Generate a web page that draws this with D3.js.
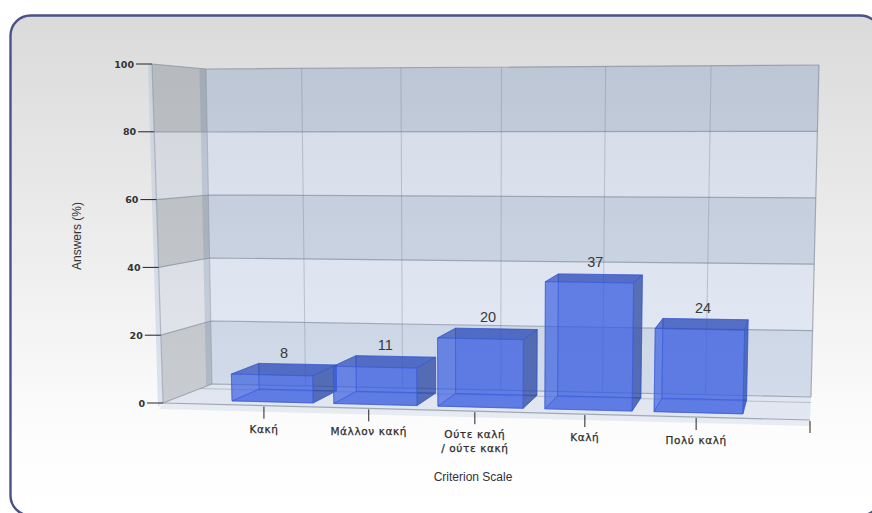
<!DOCTYPE html>
<html>
<head>
<meta charset="utf-8">
<script src="https://d3js.org/d3.v7.min.js"></script>
<style>
  html, body { margin: 0; padding: 0; background: #fff; }
  svg { display: block; }
</style>
</head>
<body>
<svg id="chart" width="872" height="513"></svg>
<script>
const categories = [['Κακή'], ['Μάλλον κακή'], ['Ούτε καλή', '/ ούτε κακή'], ['Καλή'], ['Πολύ καλή']];
const answers = [8, 11, 20, 37, 24];
const valueTicks = [0, 20, 40, 60, 80, 100];
const slots = [0, 1, 2, 3, 4, 5, 6];

const W = 872, H = 513;
const svg = d3.select('#chart');

// Corners of the plot box: front/back, left/right, bottom/top
const box = {
  fl0: [163, 403], fl100: [152, 64], fr0: [810, 420], fr100: [820, 65],
  bl0: [212, 384], bl100: [206, 69], br0: [811, 397], br100: [819, 65]
};

// Slots get wider towards the right because of the perspective
const slotScale = d3.scaleLinear().domain(slots).range([0, 0.156, 0.318, 0.482, 0.652, 0.824, 1]);
const valueScale = d3.scaleLinear().domain([0, 100]).range([0, 1]);
const lerp = (a, b, t) => a + (b - a) * t;

function project(slot, value, depth) {
  const u = slotScale(slot), v = valueScale(value);
  return [0, 1].map(i => {
    const front = lerp(lerp(box.fl0[i], box.fr0[i], u), lerp(box.fl100[i], box.fr100[i], u), v);
    const back = lerp(lerp(box.bl0[i], box.br0[i], u), lerp(box.bl100[i], box.br100[i], u), v);
    return lerp(front, back, depth);
  });
}

const line = d3.line();
const closed = pts => line(pts) + 'Z';

const defs = svg.append('defs');
const grad = defs.append('linearGradient').attr('id', 'panel-bg')
  .attr('x1', 0).attr('y1', 0).attr('x2', 0).attr('y2', 1);
grad.append('stop').attr('offset', '0%').attr('stop-color', '#dadada');
grad.append('stop').attr('offset', '85%').attr('stop-color', '#fdfdfd');
grad.append('stop').attr('offset', '100%').attr('stop-color', '#ffffff');

svg.append('rect')
  .attr('x', 10.5).attr('y', 15.5)
  .attr('width', 870).attr('height', 500)
  .attr('rx', 20).attr('ry', 20)
  .attr('fill', 'url(#panel-bg)')
  .attr('stroke', '#4a5288').attr('stroke-width', 2.4);

// Walls: alternating bands between the value ticks
const bands = d3.pairs(valueTicks).map(([lo, hi], i) => ({ lo, hi, dark: i % 2 === 0 }));

svg.append('g').selectAll('path').data(bands).join('path')
  .attr('d', b => closed([project(0, b.lo, 1), project(6, b.lo, 1), project(6, b.hi, 1), project(0, b.hi, 1)]))
  .attr('fill', b => b.dark ? 'rgb(69,116,180)' : 'rgb(197,211,240)')
  .attr('fill-opacity', b => b.dark ? 0.22 : 0.42);

svg.append('g').selectAll('path').data(bands).join('path')
  .attr('d', b => closed([project(0, b.lo, 0), project(0, b.lo, 1), project(0, b.hi, 1), project(0, b.hi, 0)]))
  .attr('fill', b => b.dark ? 'rgb(105,115,130)' : 'rgb(190,195,215)')
  .attr('fill-opacity', b => b.dark ? 0.34 : 0.35);

// Edge thickness of the back wall and the front of the side wall
svg.append('path')
  .attr('d', closed([project(0, 0, 0.88), project(0, 0, 1), project(0, 100, 1), project(0, 100, 0.88)]))
  .attr('fill', 'rgb(80,115,150)').attr('fill-opacity', 0.2);
svg.append('path')
  .attr('d', closed([[project(0, 0, 0)[0] - 5, project(0, 0, 0)[1] + 4], project(0, 0, 0), project(0, 100, 0), [project(0, 100, 0)[0] - 4, project(0, 100, 0)[1]]]))
  .attr('fill', 'rgb(165,185,215)').attr('fill-opacity', 0.35);

// Floor, with its slab edge under the front
svg.append('path')
  .attr('d', closed([project(0, 0, 0), project(6, 0, 0), project(6, 0, 1), project(0, 0, 1)]))
  .attr('fill', 'rgb(190,203,228)').attr('fill-opacity', 0.42);
svg.append('path')
  .attr('d', closed([project(0, 0, 0), project(6, 0, 0), [project(6, 0, 0)[0], project(6, 0, 0)[1] + 6], [project(0, 0, 0)[0] - 4, project(0, 0, 0)[1] + 6]]))
  .attr('fill', 'rgb(185,198,222)').attr('fill-opacity', 0.3);
svg.append('path')
  .attr('d', line([project(0, 0, 0.76), project(6, 0, 0.76)]))
  .attr('fill', 'none').attr('stroke', '#8f9aa8').attr('stroke-opacity', 0.5);

// Grid lines on both walls and the floor edges
const gridColor = '#7a8695';
const grid = svg.append('g').attr('fill', 'none').attr('stroke', gridColor);

grid.selectAll('.h').data(valueTicks).join('path').attr('class', 'h')
  .attr('d', v => line([project(0, v, 0), project(0, v, 1), project(6, v, 1)]))
  .attr('stroke-width', 1.2).attr('stroke-opacity', 0.62);

grid.selectAll('.v').data(slots.slice(1, 6)).join('path').attr('class', 'v')
  .attr('d', s => line([project(s, 0, 1), project(s, 100, 1)]))
  .attr('stroke-width', 1).attr('stroke-opacity', 0.38);

grid.append('path')
  .attr('d', line([project(6, 0, 1), project(6, 100, 1)]))
  .attr('stroke-width', 1.2).attr('stroke-opacity', 0.6);
grid.append('path')
  .attr('d', line([project(0, 100, 1), project(0, 0, 1)]))
  .attr('stroke-width', 1).attr('stroke-opacity', 0.4);
grid.append('path')
  .attr('d', line([project(0, 100, 0), project(0, 0, 0)]))
  .attr('stroke-width', 1.2).attr('stroke-opacity', 0.45);
grid.append('path')
  .attr('d', line([project(0, 0, 0), project(6, 0, 0)]))
  .attr('stroke-width', 1.2).attr('stroke-opacity', 0.65);

// Bars
const DEPTH_FRONT = 0.19, DEPTH_BACK = 0.8, HALF = 0.4;

function barFaces(i) {
  const s = i + 1, v = answers[i];
  const p = (ds, val, d) => project(s + ds, val, d);
  const f = DEPTH_FRONT, b = DEPTH_BACK;
  return [
    { fill: '#2f55d8', op: 0.42, pts: [p(-HALF, 0, b), p(HALF, 0, b), p(HALF, v, b), p(-HALF, v, b)] },
    { fill: '#2f55d8', op: 0.25, pts: [p(-HALF, 0, f), p(-HALF, 0, b), p(-HALF, v, b), p(-HALF, v, f)] },
    { fill: '#2f55d8', op: 0.45, pts: [p(-HALF, 0, f), p(HALF, 0, f), p(HALF, 0, b), p(-HALF, 0, b)] },
    { fill: '#24408f', op: 0.55, pts: [p(HALF, 0, f), p(HALF, 0, b), p(HALF, v, b), p(HALF, v, f)] },
    { fill: '#2a48b0', op: 0.6, pts: [p(-HALF, v, f), p(HALF, v, f), p(HALF, v, b), p(-HALF, v, b)] },
    { fill: '#3a5fe2', op: 0.58, pts: [p(-HALF, 0, f), p(HALF, 0, f), p(HALF, v, f), p(-HALF, v, f)] }
  ];
}

const bars = svg.append('g').selectAll('g').data(answers).join('g');
bars.selectAll('path').data((d, i) => barFaces(i)).join('path')
  .attr('d', face => closed(face.pts))
  .attr('fill', face => face.fill)
  .attr('fill-opacity', face => face.op)
  .attr('stroke', '#3558d6')
  .attr('stroke-opacity', 0.5)
  .attr('stroke-width', 1);

// Value labels above the bars
svg.append('g').selectAll('text').data(answers).join('text')
  .attr('x', (d, i) => project(i + 1, d, 0.47)[0] + 1)
  .attr('y', (d, i) => project(i + 1, d, 0.47)[1] - 17)
  .attr('text-anchor', 'middle')
  .attr('dominant-baseline', 'central')
  .attr('font-family', '"Liberation Sans", Arial, sans-serif')
  .attr('font-size', 14.5)
  .attr('fill', '#3a3a3a')
  .text(d => d);

// Value axis
const yAxis = svg.append('g');
yAxis.selectAll('line').data(valueTicks).join('line')
  .attr('x1', v => project(0, v, 0)[0] - 16)
  .attr('x2', v => project(0, v, 0)[0])
  .attr('y1', v => project(0, v, 0)[1])
  .attr('y2', v => project(0, v, 0)[1])
  .attr('stroke', '#222').attr('stroke-width', 1);
yAxis.selectAll('text').data(valueTicks).join('text')
  .attr('x', v => project(0, v, 0)[0] - 18)
  .attr('y', v => project(0, v, 0)[1])
  .attr('text-anchor', 'end')
  .attr('dominant-baseline', 'central')
  .attr('font-family', '"DejaVu Sans", Verdana, sans-serif')
  .attr('font-size', 9.5)
  .attr('font-weight', 600)
  .attr('fill', '#333')
  .text(v => v);

// Category axis
const xAxis = svg.append('g');
xAxis.selectAll('line').data(slots.slice(1)).join('line')
  .attr('x1', s => project(s, 0, 0)[0])
  .attr('x2', s => project(s, 0, 0)[0])
  .attr('y1', s => project(s, 0, 0)[1] + 1)
  .attr('y2', s => project(s, 0, 0)[1] + 13)
  .attr('stroke', '#222').attr('stroke-width', 1);

const catLabels = xAxis.selectAll('text').data(categories).join('text')
  .attr('x', (d, i) => project(i + 1, 0, 0)[0])
  .attr('y', (d, i) => project(i + 1, 0, 0)[1] + 23)
  .attr('text-anchor', 'middle')
  .attr('dominant-baseline', 'central')
  .attr('font-family', '"DejaVu Sans", Verdana, sans-serif')
  .attr('font-size', 10.5)
  .attr('letter-spacing', 0.6)
  .attr('fill', '#2b2b2b')
  .attr('stroke', '#2b2b2b')
  .attr('stroke-width', 0.25);
catLabels.selectAll('tspan').data(d => d).join('tspan')
  .attr('x', function () { return this.parentNode.getAttribute('x'); })
  .attr('dy', (d, i) => i ? 14 : 0)
  .text(d => d);

// Axis titles
svg.append('text')
  .attr('transform', 'translate(77,236) rotate(-90)')
  .attr('text-anchor', 'middle')
  .attr('dominant-baseline', 'central')
  .attr('font-family', '"Liberation Sans", Arial, sans-serif')
  .attr('font-size', 12)
  .attr('fill', '#333')
  .text('Answers (%)');

svg.append('text')
  .attr('x', 473).attr('y', 477)
  .attr('text-anchor', 'middle')
  .attr('dominant-baseline', 'central')
  .attr('font-family', '"Liberation Sans", Arial, sans-serif')
  .attr('font-size', 12)
  .attr('fill', '#333')
  .text('Criterion Scale');
</script>
</body>
</html>
